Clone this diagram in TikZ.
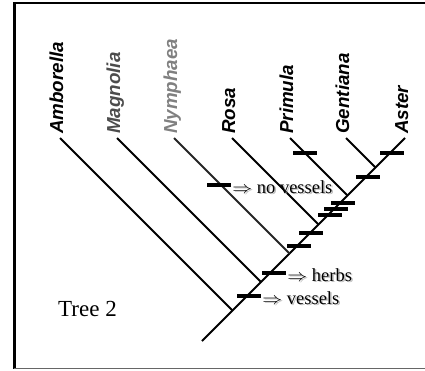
\documentclass[tikz,border=0pt]{standalone}
\usepackage{fontspec}
\setmainfont{Liberation Serif}
\setsansfont{Liberation Sans}
\usetikzlibrary{calc}

\begin{document}
\begin{tikzpicture}[x=1pt,y=-1pt,
  branch/.style={line width=1.9pt},
  taxon/.style={rotate=90, anchor=base west, inner sep=0pt,
    font=\sffamily\bfseries\itshape\fontsize{18.8}{20}\selectfont},
  synapo/.style={rectangle, fill=black, minimum width=24pt, minimum height=3.8pt, inner sep=0pt},
  note/.style={anchor=base west, inner sep=0pt, font=\fontsize{18.5}{20}\selectfont},
  noteshadow/.style={note, text=black!45, opacity=0.6},
]
\useasboundingbox (0,0) rectangle (425,370);

% frame
\draw[line width=2.5pt] (14.5,368.5) -- (14.5,3) -- (425,3);
\draw[black!60, line width=1.2pt] (14,368.5) -- (425,368.5);

% tips, root and joins (joins lie on the spine y = 543 - x)
\coordinate (root) at (202,341);
\coordinate (t1) at (60,138);
\coordinate (t2) at (117,138);
\coordinate (t3) at (174,138);
\coordinate (t4) at (232,138);
\coordinate (t5) at (290,138);
\coordinate (t6) at (346,138);
\coordinate (t7) at (405,138);
\coordinate (j1) at (232.5,310.5);
\coordinate (j2) at (261,282);
\coordinate (j3) at (289.5,253.5);
\coordinate (j4) at (318.5,224.5);
\coordinate (j5) at (347.5,195.5);
\coordinate (j6) at (375.5,167.5);

% branches
\draw[branch] (root) -- (t7);
\draw[branch] (t1) -- (j1);
\draw[branch] (t2) -- (j2);
\draw[branch, black!85] (t3) -- (j3);
\draw[branch] (t4) -- (j4);
\draw[branch] (t5) -- (j5);
\draw[branch] (t6) -- (j6);

% taxon names
\node[taxon] (lAmb) at (63,134) {Amborella};
\node[taxon, text=black!70] (lMag) at (120,134) {Magnolia};
\node[taxon, text=black!50] (lNym) at (177,134) {Nymphaea};
\node[taxon] (lRos) at (235,134) {Rosa};
\node[taxon] (lPri) at (293,134) {Primula};
\node[taxon] (lGen) at (349,134) {Gentiana};
\node[taxon] (lAst) at (408,134) {Aster};

% character changes
\node[synapo] (mPri) at (305,153) {};
\node[synapo] (mAst) at (392,153) {};
\node[synapo] (mGen) at (368,177) {};
\node[synapo] (mA) at (343,203) {};
\node[synapo] (mB) at (336,209) {};
\node[synapo] (mC) at (330,215) {};
\node[synapo] (mD) at (311,233) {};
\node[synapo] (mE) at (299,246) {};
\node[synapo] (mNov) at (219,185) {};
\node[synapo] (mHerb) at (274,273) {};
\node[synapo] (mVes) at (249,296) {};

% annotations with soft shadows
\node[noteshadow] (sNov) at ($(mNov.east)+(2.5,9.5)$) {\scalebox{1.15}[1]{$\Rightarrow$} no vessels};
\node[note] (nNov) at ($(mNov.east)+(1,8)$) {\scalebox{1.15}[1]{$\Rightarrow$} no vessels};
\node[noteshadow] (sHerb) at ($(mHerb.east)+(2.5,9.5)$) {\scalebox{1.15}[1]{$\Rightarrow$} herbs};
\node[note] (nHerb) at ($(mHerb.east)+(1,8)$) {\scalebox{1.15}[1]{$\Rightarrow$} herbs};
\node[noteshadow] (sVes) at ($(mVes.east)+(2.5,9.5)$) {\scalebox{1.15}[1]{$\Rightarrow$} vessels};
\node[note] (nVes) at ($(mVes.east)+(1,8)$) {\scalebox{1.15}[1]{$\Rightarrow$} vessels};

\node[anchor=base west, inner sep=0pt, font=\fontsize{23}{25}\selectfont] (title) at (58,316) {Tree 2};
\end{tikzpicture}
\end{document}
